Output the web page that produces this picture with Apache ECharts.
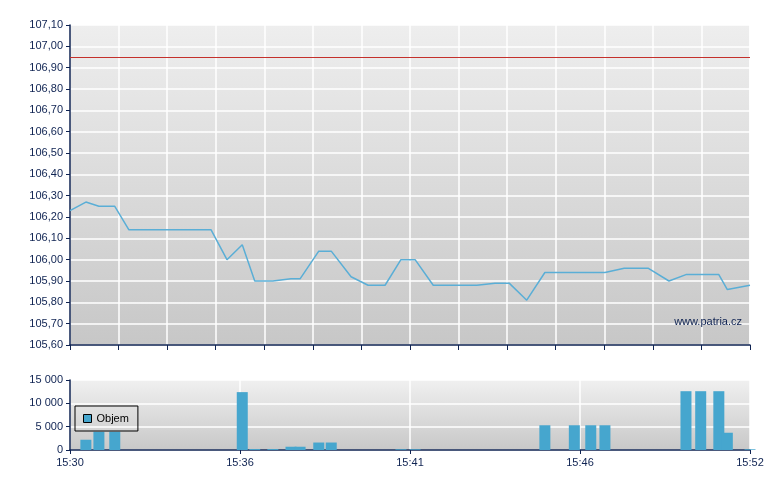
<!DOCTYPE html>
<html>
<head>
<meta charset="utf-8">
<script src="https://cdn.jsdelivr.net/npm/echarts@6/dist/echarts.min.js"></script>
<style>
html,body{margin:0;padding:0;background:#fff;}
#c{width:780px;height:490px;}
</style>
</head>
<body>
<div id="c"></div>
<script>
// ---- data ----
const axisStart = '15:31:00';
const axisEnd = '15:51:00';
const timeTickLabels = ['15:30', '15:36', '15:41', '15:46', '15:52'];

const priceTimes = ['15:31:00','15:31:28','15:31:51','15:32:19','15:32:44','15:35:09','15:35:37','15:36:04',
  '15:36:26','15:36:58','15:37:30','15:37:46','15:38:19','15:38:41','15:39:16','15:39:46','15:40:16',
  '15:40:44','15:41:09','15:41:41','15:42:58','15:43:30','15:43:55','15:44:26','15:44:58','15:45:50',
  '15:46:19','15:46:44','15:47:18','15:48:00','15:48:37','15:49:07','15:49:33','15:50:05','15:50:20','15:51:00'];
const priceValues = [106.23,106.27,106.25,106.25,106.14,106.14,106.00,106.07,
  105.90,105.90,105.91,105.91,106.04,106.04,105.92,105.88,105.88,
  106.00,106.00,105.88,105.88,105.89,105.89,105.81,105.94,105.94,
  105.94,105.94,105.96,105.96,105.90,105.93,105.93,105.93,105.86,105.88];

const volTimes = ['15:31:28','15:31:51','15:32:19','15:36:04','15:36:26','15:36:58','15:37:30','15:37:46',
  '15:38:19','15:38:41','15:40:44','15:41:09','15:44:58','15:45:50','15:46:19','15:46:44',
  '15:49:07','15:49:33','15:50:05','15:50:20','15:51:00'];
const volValues = [2200,3900,3900,12400,200,200,700,700,
  1600,1600,150,150,5300,5300,5300,5300,
  12600,12600,12600,3700,150];

const prevClose = 106.95;
const priceMin = 105.6, priceMax = 107.1, priceStep = 0.1;
const volMin = 0, volMax = 15000, volStep = 5000;
const seriesName = 'Objem';
const watermark = 'www.patria.cz';

// ---- helpers ----
function secs(s){ const p = s.split(':').map(Number); return p[0]*3600 + p[1]*60 + (p[2]||0); }
const t0 = secs(axisStart);
function toMin(s){ return (secs(s) - t0) / 60; }
const span = toMin(axisEnd);

const NAVY = '#0f2352';
const FONT = 'Liberation Sans, Arial, sans-serif';

const bg = (top, bottom) => ({
  type: 'linear', x: 0, y: 0, x2: 0, y2: 1,
  colorStops: [{offset: 0, color: top}, {offset: 1, color: bottom}]
});

const chart = echarts.init(document.getElementById('c'), null, {renderer: 'canvas'});
chart.setOption({
  animation: false,
  backgroundColor: '#ffffff',
  grid: [
    {left: 70, right: 30, top: 25, height: 320, show: true, borderWidth: 0, backgroundColor: bg('#eeeeee', '#c7c7c7')},
    {left: 70, right: 30, top: 380, height: 70, show: true, borderWidth: 0, backgroundColor: bg('#f0f0f0', '#c8c8c8')}
  ],
  legend: {
    show: true,
    data: [seriesName],
    left: 75, top: 406,
    orient: 'horizontal',
    padding: [7, 9, 7, 8],
    borderColor: '#000', borderWidth: 1, borderRadius: 0,
    backgroundColor: 'transparent',
    itemWidth: 8, itemHeight: 8,
    icon: 'rect',
    itemStyle: {borderColor: '#000', borderWidth: 1},
    textStyle: {color: '#000', fontSize: 11, fontFamily: FONT}
  },
  xAxis: [
    {
      type: 'value', gridIndex: 0, min: 0, max: span, interval: span / 14,
      axisLine: {show: true, lineStyle: {color: NAVY, width: 1.5}},
      axisTick: {show: true, length: 5, lineStyle: {color: NAVY, width: 1}},
      axisLabel: {show: false},
      splitLine: {show: true, lineStyle: {color: '#ffffff', width: 1.5}}
    },
    {
      type: 'value', gridIndex: 1, min: 0, max: span, interval: span / 4,
      axisLine: {show: true, lineStyle: {color: NAVY, width: 1.5}},
      axisTick: {show: true, length: 4, lineStyle: {color: NAVY, width: 1}},
      axisLabel: {
        show: true, color: NAVY, fontSize: 11, fontFamily: FONT, margin: 7,
        formatter: v => timeTickLabels[Math.round(v / (span / 4))] || ''
      },
      splitLine: {show: true, lineStyle: {color: '#ffffff', width: 1.5}}
    }
  ],
  yAxis: [
    {
      type: 'value', gridIndex: 0, min: priceMin, max: priceMax, interval: priceStep,
      axisLine: {show: true, lineStyle: {color: NAVY, width: 1.5}},
      axisTick: {show: true, length: 4, lineStyle: {color: NAVY, width: 1}},
      axisLabel: {
        color: NAVY, fontSize: 11, fontFamily: FONT, margin: 7,
        formatter: v => v.toFixed(2).replace('.', ',')
      },
      splitLine: {show: true, lineStyle: {color: '#ffffff', width: 1.5}}
    },
    {
      type: 'value', gridIndex: 1, min: volMin, max: volMax, interval: volStep,
      axisLine: {show: true, lineStyle: {color: NAVY, width: 1.5}},
      axisTick: {show: true, length: 4, lineStyle: {color: NAVY, width: 1}},
      axisLabel: {
        color: NAVY, fontSize: 11, fontFamily: FONT, margin: 7,
        formatter: v => String(Math.round(v)).replace(/\B(?=(\d{3})+(?!\d))/g, ' ')
      },
      splitLine: {show: true, lineStyle: {color: '#ffffff', width: 1.5}}
    }
  ],
  graphic: [
    {
      type: 'text', right: 38, top: 316, z: 10,
      style: {text: watermark, fill: NAVY, font: '11px ' + FONT}
    }
  ],
  series: [
    {
      name: 'Cena', type: 'line', xAxisIndex: 0, yAxisIndex: 0,
      data: priceTimes.map((t, i) => [toMin(t), priceValues[i]]),
      showSymbol: false, symbol: 'none',
      lineStyle: {color: '#5aaed6', width: 1.5},
      itemStyle: {color: '#5aaed6'},
      markLine: {
        silent: true, symbol: 'none', label: {show: false},
        lineStyle: {color: '#c4302b', width: 1, type: 'solid'},
        data: [{yAxis: prevClose}]
      },
      z: 3
    },
    {
      name: seriesName, type: 'bar', xAxisIndex: 1, yAxisIndex: 1,
      data: volTimes.map((t, i) => [toMin(t), volValues[i]]),
      barWidth: 11,
      itemStyle: {color: '#46a6ce'},
      clip: true
    }
  ]
});
</script>
</body>
</html>
